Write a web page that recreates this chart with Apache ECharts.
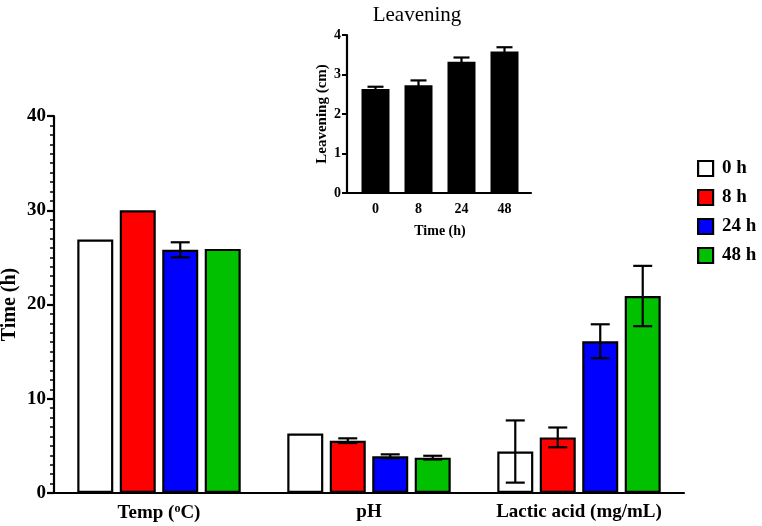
<!DOCTYPE html>
<html>
<head>
<meta charset="utf-8">
<script src="https://cdn.jsdelivr.net/npm/echarts@6/dist/echarts.min.js"></script>
<style>html,body{margin:0;padding:0;background:#fff;}#c{width:762px;height:526px;}</style>
</head>
<body>
<div id="c"></div>
<script>
// ---- data ----
var categories = ['Temp (°C)', 'pH', 'Lactic acid (mg/mL)'];
var seriesNames = ['0 h', '8 h', '24 h', '48 h'];
var values0 = [26.9, 6.3, 4.4];
var values8 = [30.0, 5.55, 5.9];
var values24 = [25.8, 3.9, 16.1];
var values48 = [25.9, 3.75, 20.9];
var err0 = [0, 0, 3.3];
var err8 = [0, 0.25, 1.05];
var err24 = [0.8, 0.2, 1.8];
var err48 = [0, 0.2, 3.2];
var yTicks = [0, 10, 20, 30, 40];

var leavCategories = ['0', '8', '24', '48'];
var leavValues = [2.63, 2.73, 3.32, 3.58];
var leavErr = [0.06, 0.12, 0.11, 0.11];

// ---- styling ----
var FONT = '"Liberation Serif", "DejaVu Serif", serif';
var colors = ['#ffffff', '#ff0000', '#0000ff', '#00c000'];
var BAR_W = 36, BAR_GAP_PCT = 0.18;

var allValues = [values0, values8, values24, values48];
var allErr = [err0, err8, err24, err48];

function errSeries(idx, vals, errs, xi, yi, capW, nBars, barW, gapPct) {
  var data = vals.map(function (v, i) { return [i, v - errs[i], v + errs[i], errs[i]]; });
  return {
    type: 'custom', xAxisIndex: xi, yAxisIndex: yi, z: 5, silent: true,
    encode: { x: 0, y: [1, 2] },
    data: data,
    renderItem: function (params, api) {
      if (api.value(3) <= 0) return null;
      var gap = barW * gapPct;
      var total = nBars * barW + (nBars - 1) * gap;
      var off = -total / 2 + barW / 2 + idx * (barW + gap);
      var lo = api.coord([api.value(0), api.value(1)]);
      var hi = api.coord([api.value(0), api.value(2)]);
      var x = lo[0] + off;
      var st = { stroke: '#000', lineWidth: 2.2 };
      return { type: 'group', children: [
        { type: 'line', shape: { x1: x, y1: lo[1], x2: x, y2: hi[1] }, style: st },
        { type: 'line', shape: { x1: x - capW / 2, y1: hi[1], x2: x + capW / 2, y2: hi[1] }, style: st },
        { type: 'line', shape: { x1: x - capW / 2, y1: lo[1], x2: x + capW / 2, y2: lo[1] }, style: st }
      ]};
    }
  };
}

var series = [];
seriesNames.forEach(function (n, i) {
  series.push({
    name: n, type: 'bar', xAxisIndex: 0, yAxisIndex: 0,
    barWidth: BAR_W, barGap: (BAR_GAP_PCT * 100) + '%',
    data: allValues[i],
    itemStyle: { color: colors[i], borderColor: '#000', borderWidth: 2.2 }
  });
});
seriesNames.forEach(function (n, i) {
  series.push(errSeries(i, allValues[i], allErr[i], 0, 0, 19, 4, BAR_W, BAR_GAP_PCT));
});
series.push({
  name: 'Leavening', type: 'bar', xAxisIndex: 1, yAxisIndex: 1,
  barWidth: 28, data: leavValues, itemStyle: { color: '#000' }
});
series.push(errSeries(0, leavValues, leavErr, 1, 1, 16, 1, 28, 0));

var axisLineStyle = { color: '#000', width: 2.2 };
var chart = echarts.init(document.getElementById('c'));
chart.setOption({
  animation: false,
  backgroundColor: '#fff',
  textStyle: { fontFamily: FONT, color: '#000' },
  title: {
    text: 'Leavening', left: 412, top: 0, textAlign: 'center',
    textStyle: { fontFamily: FONT, fontSize: 21, fontWeight: 'normal', color: '#000' }
  },
  legend: {
    orient: 'vertical', left: 692, top: 154, itemWidth: 15, itemHeight: 15, itemGap: 10,
    icon: 'rect',
    data: seriesNames.map(function (n, i) {
      return { name: n, itemStyle: { color: colors[i], borderColor: '#000', borderWidth: 2.2 } };
    }),
    textStyle: { fontFamily: FONT, fontSize: 19, fontWeight: 'bold', color: '#000', lineHeight: 19, padding: [0, 0, 0, 4] }
  },
  grid: [
    { left: 54, right: 78, top: 116, bottom: 33, outerBoundsMode: 'none', containLabel: false },
    { left: 354, right: 236, top: 35, bottom: 333, outerBoundsMode: 'none', containLabel: false },
    { left: 347, right: 231, top: 35, bottom: 333, outerBoundsMode: 'none', containLabel: false }
  ],
  xAxis: [
    {
      type: 'category', gridIndex: 0, data: categories,
      axisLine: { lineStyle: axisLineStyle },
      axisTick: { alignWithLabel: true, length: 6, lineStyle: { width: 2.2, color: '#000' } },
      axisLabel: {
        interval: 0, hideOverlap: false,
        margin: 10, fontFamily: FONT, fontSize: 19, fontWeight: 'bold', color: '#000',
        formatter: function (v) { return v.replace('°', '{sup|o}'); },
        rich: { sup: { fontFamily: FONT, fontSize: 12, fontWeight: 'bold', color: '#000', verticalAlign: 'top', padding: [0, 0, 8, 0] } }
      },
      splitLine: { show: false }
    },
    {
      type: 'category', gridIndex: 1, data: leavCategories,
      axisLine: { show: false },
      axisTick: { alignWithLabel: true, length: 5, lineStyle: { width: 2, color: '#000' } },
      axisLabel: { interval: 0, margin: 9, fontFamily: FONT, fontSize: 14, fontWeight: 'bold', color: '#000' },
      name: 'Time (h)', nameLocation: 'middle', nameGap: 31, nameMoveOverlap: false,
      nameTextStyle: { fontFamily: FONT, fontSize: 14, fontWeight: 'bold', color: '#000' },
      splitLine: { show: false }
    },
    {
      type: 'value', gridIndex: 2, min: 0, max: 1,
      axisLine: { show: true, onZero: false, lineStyle: axisLineStyle },
      axisTick: { show: false }, axisLabel: { show: false }, splitLine: { show: false }
    }
  ],
  yAxis: [
    {
      type: 'value', gridIndex: 0, min: yTicks[0], max: yTicks[yTicks.length - 1], interval: 10,
      axisLine: { show: true, lineStyle: axisLineStyle },
      axisTick: { show: true, length: 7, lineStyle: { width: 2.2, color: '#000' } },
      minorTick: { show: true, splitNumber: 10, length: 4, lineStyle: { width: 1.5, color: '#000' } },
      axisLabel: { margin: 8, fontFamily: FONT, fontSize: 19, fontWeight: 'bold', color: '#000' },
      splitLine: { show: false }, minorSplitLine: { show: false },
      name: 'Time (h)', nameLocation: 'middle', nameGap: 34, nameRotate: 90, nameMoveOverlap: false,
      nameTextStyle: { fontFamily: FONT, fontSize: 20, fontWeight: 'bold', color: '#000' }
    },
    {
      type: 'value', gridIndex: 1, min: 0, max: 4, interval: 1, offset: 7,
      axisLine: { show: true, lineStyle: axisLineStyle },
      axisTick: { show: true, length: 5, lineStyle: { width: 2, color: '#000' } },
      axisLabel: { margin: 6, fontFamily: FONT, fontSize: 14, fontWeight: 'bold', color: '#000' },
      splitLine: { show: false },
      name: 'Leavening (cm)', nameLocation: 'middle', nameGap: 17, nameRotate: 90, nameMoveOverlap: false,
      nameTextStyle: { fontFamily: FONT, fontSize: 15, fontWeight: 'bold', color: '#000' }
    },
    {
      type: 'value', gridIndex: 2, show: false, min: 0, max: 1
    }
  ],
  series: series
});
</script>
</body>
</html>
